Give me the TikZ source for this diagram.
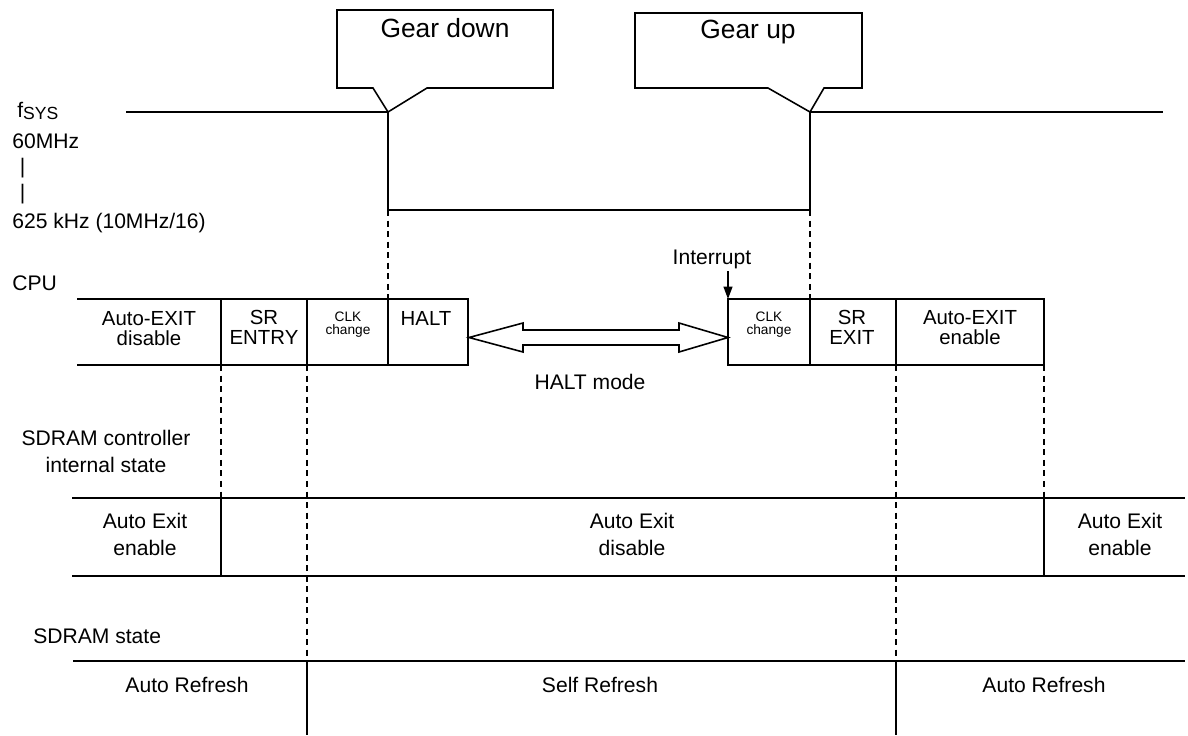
\documentclass[tikz,border=0pt]{standalone}
\usepackage{fontspec}
\setmainfont{Liberation Sans}
\usetikzlibrary{arrows.meta,calc}

\begin{document}
\begin{tikzpicture}[
    x=0.02cm, y=-0.02cm,
    every node/.style={font=\fontsize{12}{14}\selectfont, inner sep=0pt},
    wave/.style={line width=0.9pt, line join=miter},
    guide/.style={line width=0.9pt, dash pattern=on 3.4pt off 2.6pt},
    callout/.style={draw, line width=0.9pt, line join=miter},
    gear/.style={anchor=base, font=\fontsize{15}{18}\selectfont},
    lbl/.style={anchor=base west},
    mid/.style={anchor=base},
    cell/.style={anchor=base, align=center, font=\fontsize{11.6}{11.3}\selectfont},
    clkcell/.style={anchor=base, align=center, font=\fontsize{7.8}{7.4}\selectfont},
    state/.style={anchor=base, align=center, font=\fontsize{12}{15.3}\selectfont},
    >={Triangle[width=5pt,length=7pt]}
]
  \useasboundingbox (0,0) rectangle (1188,735);

  \coordinate (down) at (388,112);
  \coordinate (up) at (810,112);
  \draw[callout] (337,10) -- (553,10) -- (553,88) -- (427,88) -- (down) -- (373,88) -- (337,88) -- cycle;
  \draw[callout] (635,13) -- (862,13) -- (862,88) -- (824,88) -- (up) -- (768,88) -- (635,88) -- cycle;
  \node[gear] (gdown) at (445,37) {Gear down};
  \node[gear] (gup) at (748,38.5) {Gear up};

  % fSYS waveform
  \draw[wave] (126,112) -- (down) -- (388,210) -- (810,210) -- (up) -- (1163,112);
  \node[lbl] (fsys) at (17,117) {f\raisebox{-1.7pt}{\fontsize{10}{10}\selectfont SYS}};
  \node[lbl] (mhz) at (12,148) {60MHz};
  \node[lbl] (bar1) at (19.5,173) {|};
  \node[lbl] (bar2) at (19.5,199) {|};
  \node[lbl] (khz) at (12,228) {625 kHz (10MHz/16)};

  % CPU
  \node[lbl] (cpu) at (12,290) {CPU};
  \draw[wave] (77,299) -- (468,299) -- (468,365) -- (77,365);
  \foreach \x in {221,307,388} \draw[wave] (\x,299) -- (\x,365);
  \draw[wave] (728,299) rectangle (1044,365);
  \foreach \x in {810,896} \draw[wave] (\x,299) -- (\x,365);
  \node[cell] (aed) at (149,345) {Auto-EXIT\\disable};
  \node[cell] (sre) at (264,344) {SR\\ENTRY};
  \node[clkcell] (clka) at (348,334) {CLK\\change};
  \node[cell] (haltc) at (426,325) {HALT};
  \node[clkcell] (clkb) at (769,334) {CLK\\change};
  \node[cell] (srx) at (852,344) {SR\\EXIT};
  \node[cell] (aee) at (970,344) {Auto-EXIT\\enable};

  \node[mid] (intr) at (712,264) {Interrupt};
  \coordinate (intFrom) at (728,271);
  \coordinate (intTo) at (728,299);
  \draw[->, line width=0.9pt] (intFrom) -- (intTo);

  \coordinate (haltR) at (469,337.5);
  \coordinate (clkL) at (728,337.5);
  \draw[line width=0.9pt, fill=white] (haltR) -- ++(54,-14.5) -- ++(0,7) -- ($(clkL)+(-49,-7.5)$) -- ++(0,-7)
    -- (clkL) -- ++(-49,14.5) -- ++(0,-7) -- ($(haltR)+(54,7.5)$) -- ++(0,7) -- cycle;
  \node[mid] (haltm) at (590,389) {HALT mode};

  % guides
  \draw[guide] (388,210) -- (388,299);
  \draw[guide] (810,210) -- (810,299);
  \draw[guide] (221,365) -- (221,498);
  \draw[guide] (1044,365) -- (1044,498);
  \draw[guide] (307,365) -- (307,661);
  \draw[guide] (896,365) -- (896,661);

  % SDRAM controller
  \node[state] (ctrl) at (106,472) {SDRAM controller\\internal state};
  \draw[wave] (72,498) -- (1185,498);
  \draw[wave] (72,576) -- (1185,576);
  \draw[wave] (221,498) -- (221,576);
  \draw[wave] (1044,498) -- (1044,576);
  \node[state] (ena) at (145,555) {Auto Exit\\enable};
  \node[state] (dis) at (632,555) {Auto Exit\\disable};
  \node[state] (enb) at (1120,555) {Auto Exit\\enable};

  % SDRAM
  \node[lbl] (sdram) at (33,643) {SDRAM state};
  \draw[wave] (73,661) -- (1185,661);
  \draw[wave] (307,661) -- (307,735);
  \draw[wave] (896,661) -- (896,735);
  \node[mid] (ara) at (187,692) {Auto Refresh};
  \node[mid] (self) at (600,692) {Self Refresh};
  \node[mid] (arb) at (1044,692) {Auto Refresh};
\end{tikzpicture}
\end{document}
